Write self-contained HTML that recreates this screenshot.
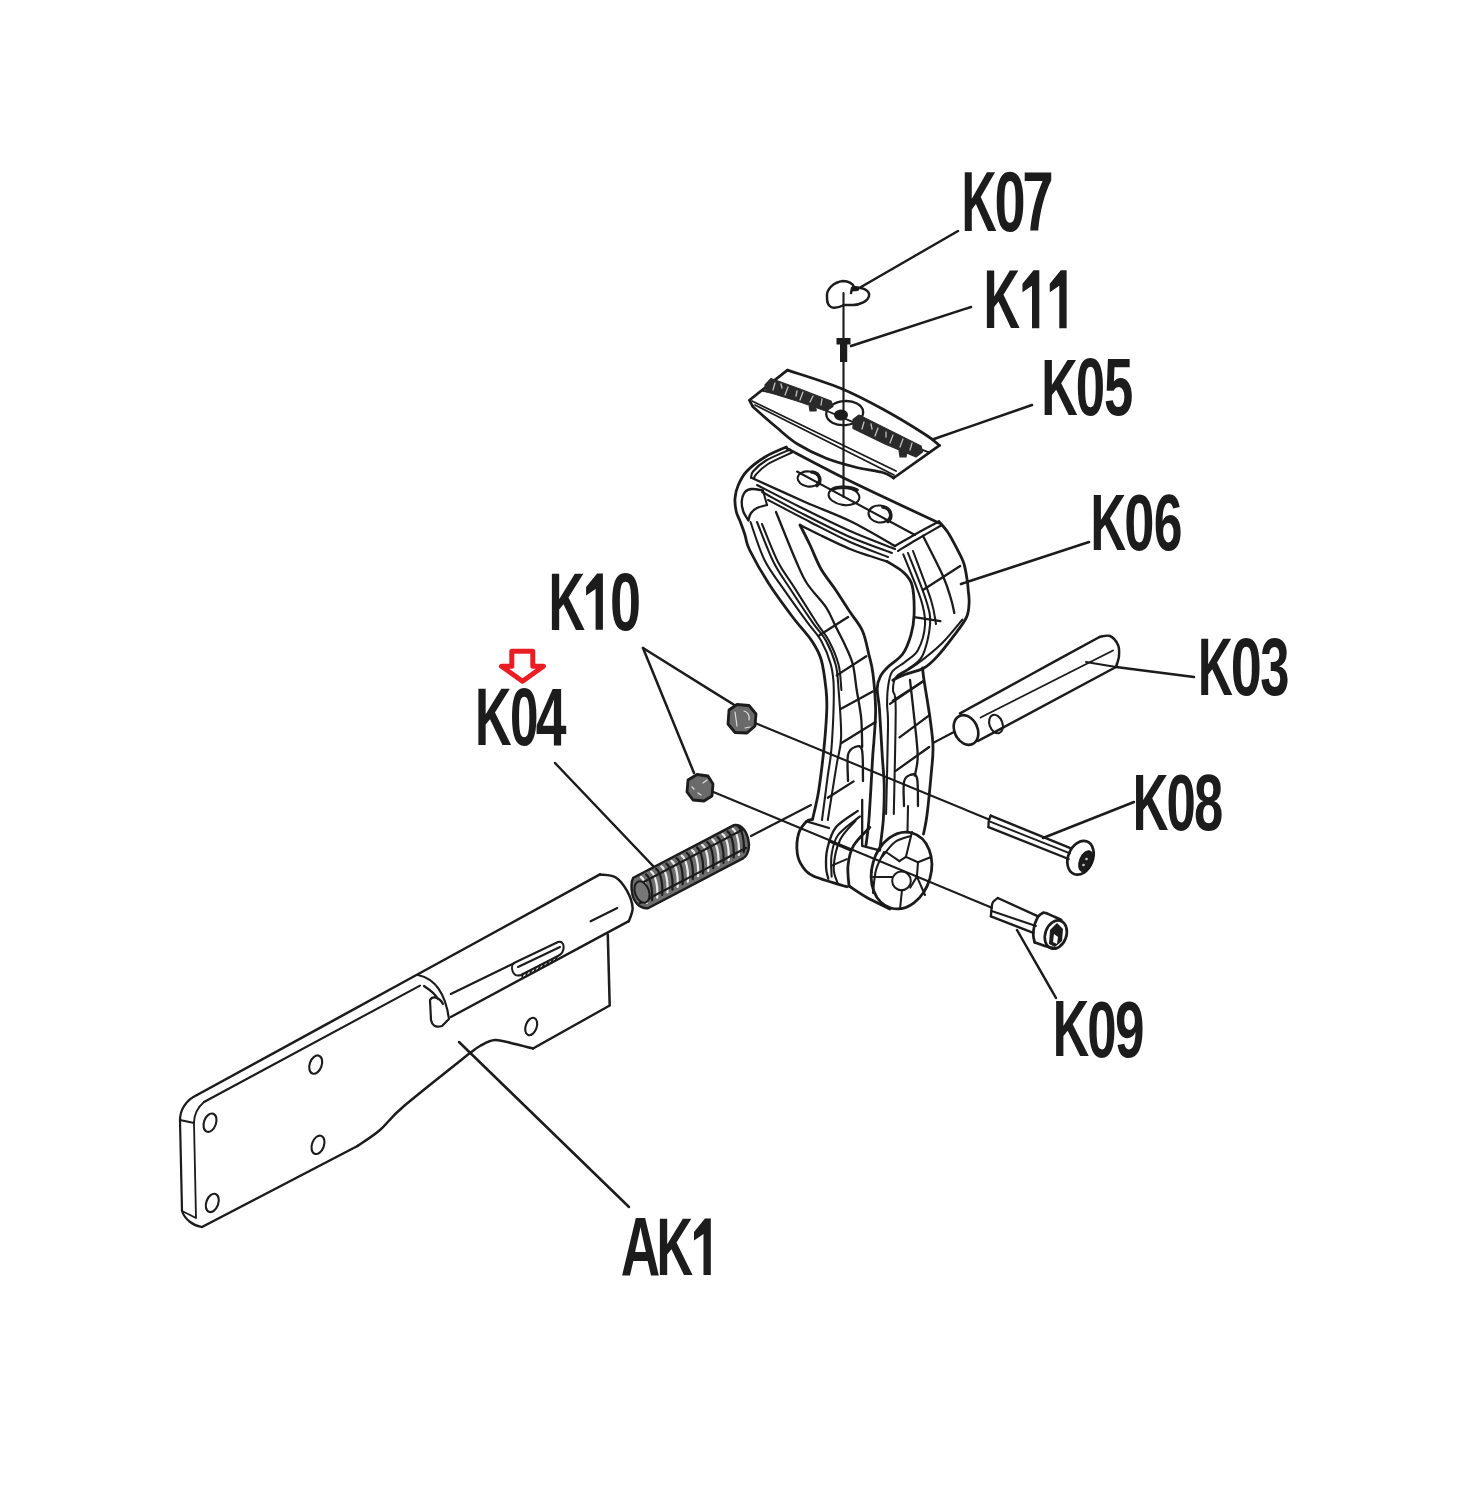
<!DOCTYPE html>
<html><head><meta charset="utf-8"><title>Parts diagram</title>
<style>
html,body{margin:0;padding:0;background:#fff;width:1463px;height:1500px;overflow:hidden}
svg{display:block}
.lb{fill:#1a1a1a} .lb text{font-family:"Liberation Sans",sans-serif;font-weight:bold;font-size:100px;fill:#1a1a1a}
</style></head><body>
<svg width="1463" height="1500" viewBox="0 0 1463 1500">
<defs><filter id="soft" x="0" y="0" width="1463" height="1500" filterUnits="userSpaceOnUse"><feGaussianBlur stdDeviation="0.75"/></filter></defs>
<rect width="1463" height="1500" fill="#fff"/>
<g filter="url(#soft)">
<g fill="none" stroke="#1a1a1a" stroke-linecap="round" stroke-linejoin="round">
<path d="M958.0,231.0 L861.0,287.0" stroke-width="2.5"/>
<path d="M971.0,307.0 L851.0,346.0" stroke-width="2.5"/>
<path d="M1032.0,405.0 L934.0,439.0" stroke-width="2.5"/>
<path d="M1089.0,542.0 L961.0,584.0" stroke-width="2.5"/>
<path d="M1194.0,677.0 L1116.0,667.0" stroke-width="2.5"/>
<path d="M1134.0,802.0 L1043.0,838.0" stroke-width="2.5"/>
<path d="M1056.0,998.0 L1017.0,930.0" stroke-width="2.5"/>
<path d="M629.0,1207.0 L459.0,1042.0" stroke-width="2.5"/>
<path d="M555.0,763.0 L655.0,868.0" stroke-width="2.5"/>
<path d="M643.0,648.0 L736.0,706.0" stroke-width="2.5"/>
<path d="M643.0,648.0 L694.0,773.0" stroke-width="2.5"/>
<path d="M843.5,293.0 L843.5,497.0" stroke-width="2.1"/>
<path d="M755.0,723.0 L989.0,819.5" stroke-width="2.1"/>
<path d="M711.6,791.3 L991.9,907.8" stroke-width="2.1"/>
<path d="M751.0,836.0 L811.0,805.0" stroke-width="2.1"/>
<path d="M953.0,732.5 L933.0,743.0" stroke-width="2.1"/>
<path fill="#1a1a1a" stroke="none" d="M852,286.5 L861,287.5 L858,291 L852,291.5 Z"/>
<path stroke-width="2.4" d="M827,297 C826,289 834,282 843,281 C849,281 853,284 854,287 L861,288 C866,289 870,292 869,296 C868,301 860,305 853,305 L844,305 C840,307 835,309 831,307 C827,305 827,301 827,297 Z M852,288 L851,293"/>
<path fill="#1a1a1a" stroke="none" d="M836.5,338 L850.5,338 L850.5,344.5 L847.2,344.5 L847.2,362 L840,362 L840,344.5 L836.5,344.5 Z"/>
<path d="M787.4,370.1 C796.2,373.1 824.0,381.4 840.0,388.0 C856.0,394.6 869.2,401.7 883.5,409.5 C897.8,417.3 916.7,429.0 926.0,435.0 C935.3,441.0 937.2,443.7 939.5,445.4" stroke-width="2.7"/>
<path d="M787.4,370.1 L749.3,400.2 L752.9,406.7" stroke-width="2.7"/>
<path d="M752.9,406.7 C756.7,410.1 768.5,420.6 775.9,426.8 C783.3,433.0 789.0,438.8 797.4,444.0 C805.8,449.2 816.5,454.5 826.1,458.3 C835.7,462.1 845.2,464.6 854.8,467.0 C864.4,469.4 877.0,470.9 883.5,472.7 C890.0,474.5 891.9,477.1 893.6,478.0" stroke-width="2.7"/>
<path d="M893.6,478.0 L939.5,445.4" stroke-width="2.7"/>
<path d="M752.0,401.0 L896.0,471.0" stroke-width="1.8"/>
<path d="M755.0,405.0 L894.0,475.0" stroke-width="1.8"/>
<path d="M763.0,390.9 C769.2,392.4 783.8,394.3 800.0,400.0 C816.2,405.7 838.4,416.2 860.0,425.0 C881.6,433.8 917.9,448.0 929.5,452.6" stroke-width="1.7"/>
<ellipse cx="844.7" cy="413.1" rx="18.5" ry="12" transform="rotate(-5 844.7 413.1)" stroke-width="2.3"/>
<ellipse cx="841" cy="415" rx="7" ry="5.5" fill="#1a1a1a" stroke="none"/>
<path fill="#2a2a2a" stroke="#2a2a2a" stroke-width="1.2" d="M765,385 L771,378.5 L800,389 L831,401 L833,406.5 L826,411 L797,401 L766,391.5 Z M809,405 L817,403 L816,411 L810,411 Z"/>
<path fill="#2a2a2a" stroke="#2a2a2a" stroke-width="1.2" d="M853,419.5 L859,415 L890,430.5 L921,446 L922.5,452 L916,457 L885,444 L853,428.5 Z M899,450 L907,449 L906,457 L900,457 Z"/>
<path fill="none" stroke="#fff" stroke-width="1.3" opacity="0.7" d="M775,383 L773,390 M781,384 L782,388 M788,387 L785,395 M797,391 L796,396 M803,392 L800,400 M813,396 L810,402 M822,399 L821,405 M864,422 L862,429 M871,424 L872,429 M878,428 L875,436 M886,432 L886,437 M893,435 L890,443 M903,439 L900,447 M912,443 L910,450"/>
<path d="M786.3,447.0 C782.8,448.7 771.5,453.0 765.0,457.0 C758.5,461.0 751.5,466.3 747.0,471.0 C742.5,475.7 740.3,480.4 738.3,485.0 C736.3,489.6 735.3,493.9 735.0,498.3 C734.7,502.8 735.4,507.8 736.3,511.7 C737.2,515.6 738.8,517.8 740.3,521.7 C741.8,525.6 743.5,530.3 745.0,535.0 C746.5,539.7 745.6,541.9 749.6,550.0 C753.6,558.1 761.5,572.3 768.7,583.5 C775.9,594.7 785.4,607.4 792.6,617.0 C799.8,626.6 807.0,633.7 811.8,640.9 C816.6,648.1 818.9,651.8 821.3,660.0 C823.7,668.2 825.2,681.9 826.1,690.0 C827.0,698.1 827.0,700.8 826.8,708.7 C826.6,716.6 825.8,727.8 825.0,737.4 C824.2,747.0 823.2,756.5 822.0,766.1 C820.8,775.7 819.6,785.9 818.0,794.8 C816.4,803.7 813.4,815.4 812.5,819.5" stroke-width="2.8"/>
<path d="M812.5,819.5 C811.5,819.8 809.0,819.0 806.7,821.3 C804.4,823.6 800.3,828.0 798.7,833.3 C797.1,838.6 796.6,847.7 797.3,853.3 C798.0,858.9 800.0,862.9 802.7,866.7 C805.4,870.5 806.0,872.7 813.3,876.0 C820.6,879.3 841.1,884.9 846.7,886.7" stroke-width="2.8"/>
<path d="M908.0,806.0 L907.5,831.0" stroke-width="2.05"/>
<path d="M849.0,886.0 C851.8,887.8 859.2,893.2 866.0,897.0 C872.8,900.8 886.0,907.0 890.0,909.0" stroke-width="2.8"/>
<ellipse cx="901.5" cy="870.5" rx="29.5" ry="39" transform="rotate(16 901.5 870.5)" stroke-width="2.8"/>
<path d="M923.5,834.0 C924.1,830.8 925.8,824.7 927.0,815.0 C928.2,805.3 930.0,787.3 931.0,776.0 C932.0,764.7 933.2,756.7 933.0,747.0 C932.8,737.3 931.5,729.2 930.0,718.0 C928.5,706.8 925.2,688.3 924.0,680.0 C922.8,671.7 922.8,670.0 922.5,668.0" stroke-width="2.8"/>
<path d="M892.8,680.2 C894.8,679.2 899.8,676.5 905.0,674.5 C910.2,672.5 918.5,671.1 924.0,668.0 C929.5,664.9 933.0,661.1 938.0,655.6 C943.0,650.1 949.5,641.5 954.3,635.1 C959.1,628.7 964.1,622.6 966.6,617.1 C969.1,611.6 968.8,606.8 969.1,602.3 C969.4,597.8 968.5,593.5 968.2,590.0 C967.9,586.5 968.0,585.6 967.3,581.1 C966.6,576.6 965.6,568.8 963.8,563.3 C962.0,557.8 959.4,553.4 956.7,548.2 C954.0,543.0 950.8,536.6 947.8,532.2 C944.8,527.8 940.5,523.4 939.0,521.6" stroke-width="2.8"/>
<path d="M939.0,523.0 C924.2,516.0 875.5,493.5 850.0,481.0 C824.5,468.5 796.9,453.5 786.3,448.0" stroke-width="2.8"/>
<path d="M790.0,449.5 C786.0,451.3 772.2,456.8 766.0,460.5 C759.8,464.2 755.5,468.6 753.0,471.5 C750.5,474.4 751.3,476.9 751.0,478.0" stroke-width="2.05"/>
<path d="M792.0,452.5 C788.0,454.4 774.0,460.3 768.0,464.0 C762.0,467.7 758.3,472.0 756.0,474.5 C753.7,477.0 754.3,478.2 754.0,479.0" stroke-width="2.05"/>
<path d="M763.0,490.5 C761.2,490.2 755.0,488.8 752.0,489.0 C749.0,489.2 746.7,489.9 745.0,492.0 C743.3,494.1 742.0,498.4 741.7,501.7 C741.5,505.0 742.4,508.9 743.5,512.0 C744.6,515.1 747.5,518.9 748.3,520.3" stroke-width="2.3"/>
<path d="M748.3,520.3 C748.8,519.1 749.5,515.0 751.0,513.0 C752.5,510.9 754.3,509.3 757.0,508.0 C759.7,506.7 765.3,505.5 767.0,505.0" stroke-width="2.3"/>
<path d="M763.0,490.5 L767.0,505.0" stroke-width="2.05"/>
<path d="M797.0,471.5 L915.0,535.0" stroke-width="2.05"/>
<path d="M752.0,478.0 C760.8,482.0 788.7,494.8 805.0,502.0 C821.3,509.2 835.0,513.7 850.0,521.0 C865.0,528.3 887.5,541.8 895.0,546.0" stroke-width="2.3"/>
<path d="M757.0,485.0 C764.2,488.7 784.5,499.3 800.0,507.0 C815.5,514.7 834.2,524.0 850.0,531.0 C865.8,538.0 887.5,546.0 895.0,549.0" stroke-width="2.05"/>
<path d="M762.0,492.0 C769.2,495.8 790.3,507.5 805.0,515.0 C819.7,522.5 835.5,530.7 850.0,537.0 C864.5,543.3 885.0,550.3 892.0,553.0" stroke-width="2.05"/>
<path d="M768.0,500.0 C775.0,503.7 796.3,515.0 810.0,522.0 C823.7,529.0 837.0,536.2 850.0,542.0 C863.0,547.8 881.7,554.5 888.0,557.0" stroke-width="2.05"/>
<path d="M895.0,546.0 C898.2,544.2 906.7,539.1 914.0,535.0 C921.3,530.9 934.8,523.8 939.0,521.6" stroke-width="2.3"/>
<path d="M898.0,551.0 C901.0,549.2 908.7,544.3 916.0,540.0 C923.3,535.7 937.7,527.5 942.0,525.0" stroke-width="2.05"/>
<ellipse cx="808.6" cy="479" rx="11" ry="7.5" transform="rotate(8 808.6 479)" stroke-width="2.1"/>
<ellipse cx="844" cy="496" rx="15.5" ry="9" transform="rotate(8 844 496)" stroke-width="2.1"/>
<ellipse cx="879.5" cy="514" rx="11" ry="8.5" transform="rotate(8 879.5 514)" stroke-width="2.1"/>
<path fill="none" stroke="#1a1a1a" stroke-width="3.6" d="M812,472 C820,473 822,481 817,485.5 M883,507 C891,508 893,517 888,521.5 M832,489.5 C838,486.5 850,486.5 857,490"/>
<path d="M800.0,525.0 C801.7,528.3 806.5,537.7 810.0,545.0 C813.5,552.3 816.7,561.5 821.0,569.0 C825.3,576.5 830.9,582.8 835.7,590.0 C840.5,597.2 845.5,605.2 850.0,612.0 C854.5,618.8 859.3,623.8 862.5,631.0 C865.7,638.2 867.2,647.8 869.0,655.0 C870.8,662.2 871.9,665.0 873.0,674.0 C874.1,683.0 875.4,697.7 875.6,708.7 C875.8,719.7 874.5,732.0 874.0,740.0 C873.5,748.0 873.6,743.3 872.7,756.6 C871.9,769.9 870.0,805.3 868.9,820.0 C867.8,834.7 866.5,840.8 866.0,845.0" stroke-width="2.8"/>
<path d="M800.0,525.0 C803.3,526.7 811.7,531.0 820.0,535.0 C828.3,539.0 841.7,545.5 850.0,549.0 C858.3,552.5 863.8,553.9 870.0,556.0 C876.2,558.1 884.4,560.7 887.3,561.6" stroke-width="2.3"/>
<path d="M887.3,561.6 C890.0,563.4 899.1,568.2 903.3,572.2 C907.4,576.2 910.4,578.5 912.2,585.6 C914.0,592.7 914.3,606.4 914.1,614.6 C913.9,622.9 912.8,628.5 910.9,635.1 C909.0,641.7 906.4,648.8 902.7,654.0 C899.0,659.2 892.4,662.6 888.7,666.3 C885.0,670.0 882.4,672.4 880.5,676.1 C878.6,679.8 877.4,683.0 877.2,688.4 C877.0,693.8 878.5,697.3 879.4,708.7 C880.2,720.1 881.5,743.8 882.3,756.6 C883.1,769.4 884.0,774.7 884.2,785.3 C884.4,795.9 884.0,809.2 883.3,820.0 C882.5,830.8 880.3,845.0 879.7,850.0" stroke-width="2.8"/>
<path d="M750.5,522.0 C752.8,528.3 759.1,549.0 764.5,560.0 C769.9,571.0 776.0,578.0 783.1,588.3 C790.2,598.6 800.6,613.0 807.0,621.8 C813.4,630.6 817.3,633.7 821.3,640.9 C825.3,648.1 828.8,656.6 830.9,664.8 C833.0,673.0 833.7,676.3 833.8,690.0 C833.9,703.7 832.6,732.7 831.6,747.0 C830.6,761.3 829.4,763.5 827.8,775.7 C826.2,787.9 823.0,812.6 822.0,820.0" stroke-width="2.05"/>
<path d="M757.0,522.0 C759.8,528.7 768.0,551.0 773.5,562.0 C779.0,573.0 783.3,578.2 789.8,588.3 C796.3,598.4 806.7,613.9 812.7,622.7 C818.8,631.5 822.3,633.9 826.1,640.9 C829.9,647.9 833.6,656.6 835.7,664.8 C837.8,673.0 837.7,677.9 838.6,690.0 C839.5,702.1 841.5,724.7 841.1,737.4 C840.7,750.1 838.6,752.3 836.4,766.1 C834.2,779.9 829.2,811.0 827.8,820.0" stroke-width="2.05"/>
<path d="M762.0,524.0 C764.7,530.3 772.7,551.6 778.0,562.0 C783.3,572.4 787.2,576.3 793.6,586.4 C800.0,596.5 810.7,613.6 816.6,622.7 C822.5,631.8 825.3,633.9 829.0,640.9 C832.7,647.9 836.5,656.6 838.6,664.8 C840.7,673.0 840.9,685.8 841.4,690.0" stroke-width="2.05"/>
<path d="M776.0,512.0 C779.3,520.0 790.4,548.1 795.6,560.0 C800.8,571.9 801.9,575.6 807.0,583.5 C812.1,591.4 821.3,600.2 826.1,607.4 C830.9,614.6 832.5,620.2 835.7,626.6 C838.9,633.0 842.4,639.3 845.3,645.7 C848.2,652.1 851.0,657.4 852.9,664.8 C854.8,672.2 855.3,681.1 856.7,690.0 C858.1,698.9 860.3,708.8 861.2,718.3 C862.1,727.8 862.0,742.2 862.2,747.0" stroke-width="2.3"/>
<path d="M903.3,554.4 C906.3,562.0 917.5,588.2 921.1,600.0 C924.7,611.8 925.5,616.7 925.0,625.0 C924.5,633.3 921.3,643.8 918.0,650.0 C914.7,656.2 909.3,658.3 905.0,662.0 C900.7,665.7 894.9,667.6 892.0,672.0 C889.1,676.4 888.7,682.9 887.9,688.4 C887.1,693.9 887.1,698.2 887.1,704.8 C887.1,711.4 888.2,709.6 888.0,727.8 C887.8,746.0 886.4,799.6 886.1,814.0" stroke-width="2.05"/>
<path d="M908.0,553.0 C911.0,560.8 922.3,588.0 926.0,600.0 C929.7,612.0 930.6,615.7 930.0,625.0 C929.4,634.3 926.0,648.7 922.3,656.0 C918.6,663.3 912.4,665.5 908.0,669.0 C903.6,672.5 898.5,673.5 896.0,677.0 C893.5,680.5 893.0,684.7 893.0,690.0 C893.0,695.3 895.6,688.0 895.7,708.7 C895.8,729.4 894.1,796.5 893.8,814.0" stroke-width="2.05"/>
<path d="M913.0,551.0 C916.0,559.2 927.2,587.8 931.0,600.0 C934.8,612.2 935.2,620.0 936.0,624.0" stroke-width="2.05"/>
<path d="M922.9,535.8 C926.3,542.6 938.6,566.0 943.3,576.7 C948.0,587.4 949.5,594.0 951.3,600.0 C953.1,606.0 953.8,610.8 954.3,613.0" stroke-width="2.3"/>
<path d="M962.5,619.5 C959.1,623.5 949.5,635.9 942.0,643.3 C934.5,650.7 924.7,658.3 917.4,663.8 C910.1,669.2 901.2,674.0 898.0,676.0" stroke-width="2.05"/>
<path d="M910.0,680.0 C910.8,687.2 913.5,710.2 914.8,723.0 C916.1,735.8 917.7,747.8 917.7,756.6 C917.7,765.4 915.3,772.5 914.8,775.7" stroke-width="2.3"/>
<path d="M819.4,635.2 L848.1,617.0" stroke-width="2.3"/>
<path d="M836.7,675.4 L866.3,656.2" stroke-width="2.3"/>
<path d="M841.1,708.7 L872.7,691.5" stroke-width="2.3"/>
<path d="M841.1,743.2 L875.6,722.1" stroke-width="2.3"/>
<path d="M827.8,797.7 L853.6,781.4" stroke-width="2.3"/>
<path d="M922.9,590.0 L960.2,566.0" stroke-width="2.3"/>
<path d="M914.1,617.1 L940.4,621.2" stroke-width="2.3"/>
<path d="M892.8,700.7 L922.3,681.9" stroke-width="2.3"/>
<path d="M890.0,703.9 L923.4,681.0" stroke-width="2.3"/>
<path d="M899.5,737.4 L929.2,715.4" stroke-width="2.3"/>
<path d="M895.7,770.9 L929.2,747.0" stroke-width="2.3"/>
<path d="M848.0,781.0 C848.0,776.7 846.8,760.7 848.0,755.0 C849.2,749.3 852.7,747.8 855.0,747.0 C857.3,746.2 860.7,744.3 862.0,750.0 C863.3,755.7 862.8,775.8 863.0,781.0" stroke-width="2.3"/>
<path d="M904.0,806.0 C904.0,802.0 903.0,787.2 904.0,782.0 C905.0,776.8 907.8,775.7 910.0,775.0 C912.2,774.3 915.7,772.8 917.0,778.0 C918.3,783.2 917.8,801.3 918.0,806.0" stroke-width="2.3"/>
<path d="M857.8,810.9 C854.1,813.6 841.0,820.9 835.9,827.3 C830.8,833.7 828.8,842.5 827.2,849.2 C825.6,856.0 825.9,862.9 826.1,867.8 C826.3,872.7 827.9,876.9 828.3,878.7" stroke-width="2.3"/>
<path d="M860.0,816.4 C856.4,819.5 842.8,828.6 838.1,835.0 C833.4,841.4 832.7,847.8 831.6,854.7 C830.5,861.6 831.6,873.0 831.6,876.6" stroke-width="2.05"/>
<path d="M855.6,820.8 C853.0,824.0 843.6,832.2 840.0,840.0 C836.4,847.8 834.0,860.4 833.7,867.8 C833.4,875.2 837.4,881.5 838.1,884.2" stroke-width="2.05"/>
<path d="M869.8,827.3 C867.1,830.4 857.0,839.5 853.4,845.9 C849.8,852.3 848.7,858.9 848.0,865.6 C847.3,872.3 848.8,882.6 849.0,886.0" stroke-width="2.8"/>
<path d="M829.4,841.6 L850.1,850.3" stroke-width="2.05"/>
<path d="M831.6,865.6 L846.9,859.1" stroke-width="2.05"/>
<path d="M806.7,821.3 L829.0,828.0" stroke-width="2.3"/>
<path d="M862.2,800.0 L862.2,845.9 L879.7,850.3" stroke-width="2.3"/>
<path d="M881.9,856.9 C884.1,854.4 890.3,845.5 895.0,842.0 C899.7,838.5 907.8,837.1 910.3,836.1" stroke-width="2.05"/>
<path d="M873.0,893.0 C873.5,889.2 874.2,876.8 876.0,870.0 C877.8,863.2 882.7,855.0 884.0,852.0" stroke-width="2.05"/>
<circle cx="901.5" cy="880.9" r="9.3" stroke-width="2"/>
<path d="M899.4,861.2 L905.9,856.9 L918.0,862.3 L916.9,876.6 L910.3,887.5" stroke-width="2.05"/>
<path d="M905.9,856.9 L912.0,832.0" stroke-width="2.05"/>
<path d="M918.0,862.3 L931.0,857.0" stroke-width="2.05"/>
<path d="M916.9,876.6 L925.0,895.0" stroke-width="2.05"/>
<path d="M902.0,890.0 L900.0,909.0" stroke-width="2.05"/>
<path d="M892.0,877.0 L873.0,877.0" stroke-width="2.05"/>
<path d="M899.4,861.2 L886.0,852.0" stroke-width="2.05"/>
<ellipse cx="966" cy="730" rx="11.5" ry="15.5" transform="rotate(-25 966 730)" stroke-width="2.6"/>
<path d="M960.0,713.4 C971.7,707.0 1006.8,687.7 1030.0,675.0 C1053.2,662.3 1087.9,643.3 1099.5,637.0" stroke-width="2.5"/>
<path d="M1099.5,637.0 C1101.2,636.8 1106.9,634.7 1110.0,636.0 C1113.1,637.3 1116.5,641.7 1118.0,645.0 C1119.5,648.3 1119.3,652.3 1119.0,656.0 C1118.7,659.7 1116.5,665.2 1116.0,667.0" stroke-width="2.5"/>
<path d="M978.0,741.0 L1116.0,667.0" stroke-width="2.5"/>
<path d="M980.6,717.5 L1113.0,650.5" stroke-width="1.9"/>
<path d="M1086.0,662.0 L1116.0,667.0" stroke-width="1.9"/>
<ellipse cx="996" cy="724" rx="6.5" ry="9.5" transform="rotate(-20 996 724)" stroke-width="2.1"/>
<path d="M990.7,815.6 L1071.0,848.4" stroke-width="2.4"/>
<path d="M989.5,821.3 L1070.0,853.3" stroke-width="1.9"/>
<path d="M988.5,827.1 L1068.6,859.0" stroke-width="2.4"/>
<path d="M990.7,815.6 C990.4,816.5 989.2,819.1 988.8,821.0 C988.4,822.9 988.5,826.1 988.5,827.1" stroke-width="2.3"/>
<ellipse cx="1080.5" cy="857.8" rx="12.3" ry="17.5" transform="rotate(22 1080.5 857.8)" stroke-width="2.7"/>
<ellipse cx="1085.8" cy="861.2" rx="6.3" ry="11" transform="rotate(22 1085.8 861.2)" fill="#1a1a1a" stroke="#1a1a1a" stroke-width="1"/>
<circle cx="1086.5" cy="859" r="1.3" fill="#ccc" stroke="none"/><circle cx="1083.5" cy="865" r="1.3" fill="#ccc" stroke="none"/>
<path d="M997.8,898.0 L1038.1,916.4" stroke-width="2.4"/>
<path d="M991.6,911.0 L1036.0,926.0" stroke-width="1.9"/>
<path d="M990.9,916.4 L1033.3,932.8" stroke-width="2.4"/>
<path d="M997.8,898.0 C997.0,898.7 994.0,900.4 993.0,902.0 C992.0,903.6 992.0,905.2 991.6,907.6 C991.2,910.0 991.0,914.9 990.9,916.4" stroke-width="2.3"/>
<path d="M1038.1,916.4 C1038.7,916.0 1040.2,914.3 1041.5,913.7 C1042.8,913.1 1042.3,912.0 1045.6,913.0 C1048.9,914.0 1058.7,918.8 1061.3,919.9" stroke-width="2.7"/>
<path d="M1038.1,916.4 C1037.5,917.8 1035.3,921.9 1034.5,925.0 C1033.7,928.1 1033.3,932.1 1033.3,935.0 C1033.3,937.9 1034.5,941.2 1034.7,942.4" stroke-width="2.7"/>
<path d="M1034.7,942.4 C1036.4,943.0 1041.6,945.0 1045.0,946.0 C1048.4,947.0 1053.5,948.1 1055.2,948.5" stroke-width="2.7"/>
<ellipse cx="1055.8" cy="934.6" rx="10.5" ry="14.5" transform="rotate(20 1055.8 934.6)" stroke-width="2.7"/>
<path fill="#1a1a1a" stroke="none" d="M1049,944 L1050,930 L1057,923 L1063,929 L1062,941 L1055,947 Z"/>
<path fill="#fff" stroke="none" d="M1053,942 L1054,934 L1058,937 L1057,944 Z"/>
<path fill="#6a6a6a" stroke="#1a1a1a" stroke-width="2.8" d="M729,710 L737,704.5 L749,705.5 L756,714 L755,726 L747,733 L735,732.5 L728,724 Z"/>
<path fill="none" stroke="#ddd" stroke-width="1.2" d="M735,712 L737,726 M745,728 L750,727 M744,711 C748,712 750,716 749,720"/>
<path fill="#6a6a6a" stroke="#1a1a1a" stroke-width="2.8" d="M688,780 L697,774.5 L708,776 L713,784 L712,796 L704,801 L693,800 L687,792 Z"/>
<path fill="none" stroke="#ddd" stroke-width="1.2" d="M692,787 L694,789 M703,783 L707,780 M698,793 L701,795"/>
<path fill="#6e6e6e" stroke="#1a1a1a" stroke-width="2.4" d="M633.3,877.7 L733.9,825.1 C742,824 748,832 749,845 C749,852 746,857 743,858.4 L648,908.2 C640,909 633,902 632,892 C631,886 632,880 633.3,877.7 Z"/>
<path stroke="#ececec" stroke-width="2.2" fill="none" d="M641.0,877.0 C645.0,880.0 648.0,891.0 647.0,903.0 M651.2,871.6 C655.2,874.6 658.2,885.6 657.2,897.6 M661.4,866.3 C665.4,869.3 668.4,880.3 667.4,892.3 M671.6,861.0 C675.6,864.0 678.6,875.0 677.6,887.0 M681.8,855.6 C685.8,858.6 688.8,869.6 687.8,881.6 M692.0,850.2 C696.0,853.2 699.0,864.2 698.0,876.2 M702.2,844.9 C706.2,847.9 709.2,858.9 708.2,870.9 M712.4,839.5 C716.4,842.5 719.4,853.5 718.4,865.5 M722.6,834.2 C726.6,837.2 729.6,848.2 728.6,860.2 M732.8,828.9 C736.8,831.9 739.8,842.9 738.8,854.9"/>
<path stroke="#1e1e1e" stroke-width="2.2" fill="none" d="M646.0,874.3 C650.0,877.3 653.0,888.3 652.0,900.3 M656.2,868.9 C660.2,871.9 663.2,882.9 662.2,894.9 M666.4,863.6 C670.4,866.6 673.4,877.6 672.4,889.6 M676.6,858.2 C680.6,861.2 683.6,872.2 682.6,884.2 M686.8,852.9 C690.8,855.9 693.8,866.9 692.8,878.9 M697.0,847.5 C701.0,850.5 704.0,861.5 703.0,873.5 M707.2,842.2 C711.2,845.2 714.2,856.2 713.2,868.2 M717.4,836.8 C721.4,839.8 724.4,850.8 723.4,862.8 M727.6,831.5 C731.6,834.5 734.6,845.5 733.6,857.5 M737.8,826.1 C741.8,829.1 744.8,840.1 743.8,852.1"/>
<path fill="none" stroke="#1a1a1a" stroke-width="2.2" d="M636,886 L742,830 M640,903 L746,848"/>
<ellipse cx="642" cy="892" rx="7" ry="11" transform="rotate(-20 642 892)" fill="#777" stroke="#1a1a1a" stroke-width="2"/>
<path d="M197.0,1095.0 C230.8,1076.5 332.8,1020.8 400.0,984.0 C467.2,947.2 566.7,892.7 600.0,874.4" stroke-width="2.5"/>
<path d="M600.0,874.4 C602.6,874.9 610.9,874.5 615.4,877.2 C619.9,879.9 624.0,885.5 626.9,890.6 C629.8,895.7 632.3,902.7 632.6,907.8 C632.9,912.9 629.4,919.0 628.8,921.2" stroke-width="2.5"/>
<path d="M628.8,921.2 L450.8,1017.0" stroke-width="2.5"/>
<path d="M204.0,1102.0 L420.0,985.6" stroke-width="2.1"/>
<path d="M450.8,994.0 L514.0,963.3" stroke-width="2.1"/>
<path d="M590.6,921.3 L617.3,908.0" stroke-width="2.1"/>
<path stroke-width="2" d="M514,963 L558,942 C565,940 566,952 558,956 L521,975 C512,978 510,966 514,963 Z M518,967 L560,947"/>
<path stroke-width="1.6" d="M522.0,977.0 l1.2,-3.2 M526.2,974.9 l1.2,-3.2 M530.4,972.8 l1.2,-3.2 M534.6,970.7 l1.2,-3.2 M538.8,968.6 l1.2,-3.2 M543.0,966.5 l1.2,-3.2 M547.2,964.4 l1.2,-3.2 M551.4,962.3 l1.2,-3.2 M555.6,960.2 l1.2,-3.2"/>
<path stroke-width="2.2" d="M418,975 C432,978 445,990 449,1019 L442,1026 C435,1028 432,1025 431,1020 L430,1000 C433,995 440,998 443,1004 M424,986 C430,990 436,995 438,999"/>
<path d="M607.8,934.6 L609.7,1005.5 L533.0,1048.5" stroke-width="2.5"/>
<path d="M533.0,1048.5 C530.0,1047.8 521.3,1045.4 515.0,1044.0 C508.7,1042.6 500.8,1039.7 495.0,1040.0 C489.2,1040.3 484.2,1043.8 480.0,1046.0 C475.8,1048.2 471.7,1051.8 470.0,1053.0" stroke-width="2.5"/>
<path d="M470.0,1053.0 C459.0,1061.8 419.0,1093.2 404.0,1106.0 C389.0,1118.8 387.8,1123.3 380.0,1130.0 C372.2,1136.7 361.2,1143.3 357.5,1146.0" stroke-width="2.5"/>
<path d="M357.5,1146.0 L202.0,1227.0" stroke-width="2.5"/>
<ellipse cx="531.2" cy="1026.5" rx="5.5" ry="9" transform="rotate(20 531.2 1026.5)" stroke-width="2.1"/>
<path stroke-width="2.2" d="M197,1095 C186,1100 180,1110 180,1120 L182,1211 C185,1220 194,1226 202,1227"/>
<path stroke-width="1.8" d="M204,1102 C197,1108 194,1115 194,1123 L196,1218 M182,1211 L196,1218 M180,1120 L194,1123"/>
<ellipse cx="315.7" cy="1064.6" rx="6" ry="9.5" transform="rotate(20 315.7 1064.6)" stroke-width="2.1"/>
<ellipse cx="210" cy="1122.7" rx="6" ry="9.5" transform="rotate(20 210 1122.7)" stroke-width="2.1"/>
<ellipse cx="318" cy="1144.8" rx="6" ry="9.5" transform="rotate(20 318 1144.8)" stroke-width="2.1"/>
<ellipse cx="212.3" cy="1202.9" rx="6" ry="9.5" transform="rotate(20 212.3 1202.9)" stroke-width="2.1"/>
</g>
<g class="lb">
<text transform="matrix(0.4875 0 0 0.8435 961.39 230.60)">K</text>
<text transform="matrix(0.5596 0 0 0.8521 994.56 231.05)">0</text>
<path d="M1024.7,172.4 L1051.2,172.4 L1051.2,180.6 C1045,193 1040,210 1038.2,230.6 L1030.2,230.6 C1032,212 1036,196 1042.6,181 L1024.7,181 Z"/>
<text transform="matrix(0.5062 0 0 0.8391 983.46 328.20)">K</text>
<path d="M1039.3,270.3 L1033.5,270.3 L1022.5,283.8 L1022.5,292.3 L1032.0,285.8 L1032.0,328.2 L1039.3,328.2 Z"/>
<path d="M1066.6,270.3 L1060.8,270.3 L1049.8,283.8 L1049.8,292.3 L1059.3,285.8 L1059.3,328.2 L1066.6,328.2 Z"/>
<text transform="matrix(0.5047 0 0 0.8014 1041.27 414.70)">K</text>
<text transform="matrix(0.5277 0 0 0.8113 1075.79 415.19)">0</text>
<text transform="matrix(0.5260 0 0 0.8086 1104.12 415.19)">5</text>
<text transform="matrix(0.4937 0 0 0.7957 1090.54 549.70)">K</text>
<text transform="matrix(0.5426 0 0 0.8056 1124.23 550.19)">0</text>
<text transform="matrix(0.5167 0 0 0.8056 1153.63 550.19)">6</text>
<text transform="matrix(0.5062 0 0 0.8072 548.46 629.70)">K</text>
<path d="M602.9,573.5 L597.1,573.5 L586.1,587.0 L586.1,595.5 L595.6,589.0 L595.6,629.7 L602.9,629.7 Z"/>
<text transform="matrix(0.5596 0 0 0.8169 609.96 630.18)">0</text>
<text transform="matrix(0.5062 0 0 0.8072 475.06 744.70)">K</text>
<text transform="matrix(0.5128 0 0 0.8169 510.05 745.18)">0</text>
<text transform="matrix(0.5528 0 0 0.8072 535.79 744.70)">4</text>
<text transform="matrix(0.4812 0 0 0.8072 1197.93 694.70)">K</text>
<text transform="matrix(0.5596 0 0 0.8169 1230.66 695.18)">0</text>
<text transform="matrix(0.5260 0 0 0.8169 1260.35 695.18)">3</text>
<text transform="matrix(0.4938 0 0 0.7957 1132.84 829.70)">K</text>
<text transform="matrix(0.5277 0 0 0.8056 1166.49 830.19)">0</text>
<text transform="matrix(0.5260 0 0 0.8056 1194.12 830.19)">8</text>
<text transform="matrix(0.5047 0 0 0.7957 1052.77 1056.20)">K</text>
<text transform="matrix(0.5277 0 0 0.8056 1087.29 1056.69)">0</text>
<text transform="matrix(0.5312 0 0 0.8056 1115.08 1056.69)">9</text>
<text transform="matrix(0.5470 0 0 0.8294 620.86 1275.73)">A</text>
<text transform="matrix(0.5062 0 0 0.8174 656.56 1274.90)">K</text>
<path d="M710.8,1218.5 L705.0,1218.5 L694.0,1232.0 L694.0,1240.5 L703.5,1234.0 L703.5,1274.9 L710.8,1274.9 Z"/>
</g>
</g>
<path d="M511.8,651.2 L532.8,651.2 L532.8,666.3 L543.5,666.3 L522.5,681.2 L501.5,666.3 L511.8,666.3 Z" fill="none" stroke="#ea1c24" stroke-width="5" stroke-linejoin="round"/>
</svg>
</body></html>
